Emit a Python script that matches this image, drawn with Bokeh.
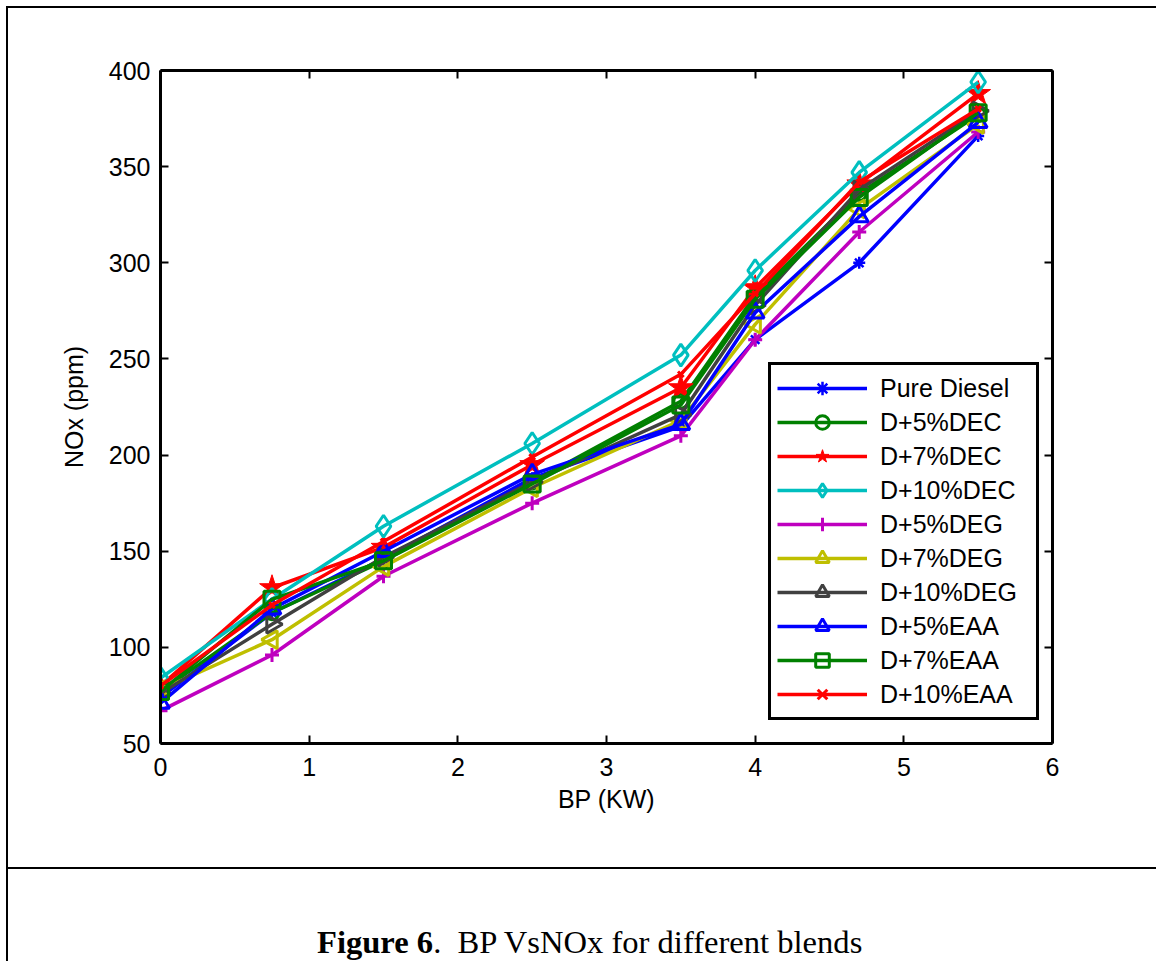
from bokeh.plotting import figure
from bokeh.models import (Range1d, LinearAxis, FixedTicker, Legend, LegendItem,
                          Div, Spacer)
from bokeh.layouts import column, row
from bokeh.embed import file_html
from bokeh.resources import INLINE
import numpy as np

# ---------------- data ----------------
bp = [0, 0.75, 1.5, 2.5, 3.5, 4, 4.7, 5.5]

pure_diesel = [74, 118, 146, 188, 215, 260, 300, 366]
d5_dec = [77, 118, 145, 186, 228, 283, 336, 377]
d7_dec = [80, 131, 152, 195, 235, 287, 341, 388]
d10_dec = [84, 125, 163, 206, 252, 296, 347, 394]
d5_deg = [67, 96, 137, 175, 210, 260, 316, 368]
d7_deg = [78, 104, 142, 183, 218, 268, 328, 372]
d10_deg = [76, 112, 147, 186, 221, 278, 338, 379]
d5_eaa = [71, 120, 150, 190, 216, 274, 324, 373]
d7_eaa = [77, 125, 145, 185, 226, 281, 334, 378]
d10_eaa = [80, 122, 155, 199, 242, 284, 342, 380]

series_names = ["Pure Diesel", "D+5%DEC", "D+7%DEC", "D+10%DEC", "D+5%DEG",
                "D+7%DEG", "D+10%DEG", "D+5%EAA", "D+7%EAA", "D+10%EAA"]
series_values = [pure_diesel, d5_dec, d7_dec, d10_dec, d5_deg,
                 d7_deg, d10_deg, d5_eaa, d7_eaa, d10_eaa]

x_ticks = [0, 1, 2, 3, 4, 5, 6]
y_ticks = [50, 100, 150, 200, 250, 300, 350, 400]

x_label = "BP (KW)"
y_label = "NOx (ppm)"
caption_bold = "Figure 6"
caption_rest = "BP VsNOx for different blends"

# ---------------- styles ----------------
styles = [
    dict(color="#0000ff", marker="asterisk", size=12, fill=False, lw=2.5),
    dict(color="#008000", marker="circle", size=14, fill=False, lw=3),
    dict(color="#ff0000", marker="star", size=26, fill=True, lw=1),
    dict(color="#00bfbf", marker="diamond", size=22, fill=False, lw=3),
    dict(color="#bf00bf", marker="cross", size=14, fill=False, lw=3),
    dict(color="#bfbf00", marker="triangle", size=18, fill=False, lw=3, angle=np.pi / 2),
    dict(color="#404040", marker="triangle", size=18, fill=False, lw=3, angle=-np.pi / 2),
    dict(color="#0000ff", marker="triangle", size=18, fill=False, lw=3),
    dict(color="#008000", marker="square", size=16, fill=False, lw=3),
    dict(color="#ff0000", marker="x", size=8, fill=False, lw=3),
]

FONT = "Liberation Sans"

p = figure(width=1148, height=859, output_backend="svg", toolbar_location=None,
           x_range=Range1d(0, 6), y_range=Range1d(50, 400),
           min_border_left=152, min_border_right=104,
           min_border_top=62, min_border_bottom=124, margin=0)
p.outline_line_color = None
p.xgrid.grid_line_color = None
p.ygrid.grid_line_color = None
p.background_fill_color = "white"
p.border_fill_color = "white"


def style_axis(ax, ticks, show_labels):
    ax.ticker = FixedTicker(ticks=ticks)
    ax.axis_line_width = 3
    ax.axis_line_color = "black"
    ax.major_tick_in = 8
    ax.major_tick_out = 0
    ax.major_tick_line_width = 2
    ax.minor_tick_line_color = None
    ax.major_label_text_font = FONT
    ax.major_label_text_font_size = "25px"
    ax.major_label_text_color = "black" if show_labels else None


style_axis(p.xaxis[0], x_ticks, True)
style_axis(p.yaxis[0], y_ticks, True)
p.xaxis[0].major_label_standoff = 14
p.yaxis[0].major_label_standoff = 10
for ax in (p.xaxis[0], p.yaxis[0]):
    ax.axis_label_text_font = FONT
    ax.axis_label_text_font_size = "25px"
    ax.axis_label_text_font_style = "normal"
    ax.axis_label_text_color = "black"
p.xaxis[0].axis_label = x_label
p.yaxis[0].axis_label = y_label
p.xaxis[0].axis_label_standoff = 6
p.yaxis[0].axis_label_standoff = 18

top_ax = LinearAxis()
style_axis(top_ax, x_ticks, False)
p.add_layout(top_ax, "above")
right_ax = LinearAxis()
style_axis(right_ax, y_ticks, False)
p.add_layout(right_ax, "right")

items = []
for name, vals, st in zip(series_names, series_values, styles):
    ln = p.line(bp, vals, line_color=st["color"], line_width=3.5)
    sc = p.scatter(bp, vals, marker=st["marker"], size=st["size"],
                   line_color=st["color"], line_width=st["lw"],
                   fill_color=st["color"] if st["fill"] else None,
                   angle=st.get("angle", 0))
    items.append(LegendItem(label=name, renderers=[ln, sc]))

legend = Legend(items=items, location=(608, 23))
legend.label_text_font = FONT
legend.label_text_font_size = "25px"
legend.label_text_color = "black"
legend.glyph_width = 90
legend.glyph_height = 34
legend.label_height = 34
legend.spacing = 0
legend.padding = 6
legend.margin = 0
legend.label_standoff = 13
legend.label_width = 150
legend.border_line_color = "black"
legend.border_line_alpha = 1
legend.border_line_width = 3
legend.background_fill_color = "white"
legend.background_fill_alpha = 1
p.add_layout(legend)


def black_bar(w, h):
    return Div(text="", width=w, height=h, margin=0,
               styles={"background-color": "#000000"})


caption_html = (
    '<div style="font-family:\'Liberation Serif\',\'Times New Roman\',serif;'
    'font-size:32.6px;line-height:36px;color:#000;white-space:nowrap;'
    'padding-left:309px;padding-top:55px;">'
    f'<b>{caption_bold}</b>.&nbsp;&nbsp;{caption_rest}</div>'
)
caption = Div(text=caption_html, width=1148, height=92, margin=0)

right_col = column(
    Spacer(width=1148, height=6, margin=0),
    black_bar(1148, 2),
    p,
    black_bar(1148, 2),
    caption,
    spacing=0, margin=0,
)
left_col = column(
    Spacer(width=2, height=6, margin=0),
    black_bar(2, 955),
    spacing=0, margin=0,
)
layout = row(Spacer(width=6, height=10, margin=0), left_col, right_col,
             spacing=0, margin=0)

open("out.html", "w").write(file_html(layout, INLINE))
